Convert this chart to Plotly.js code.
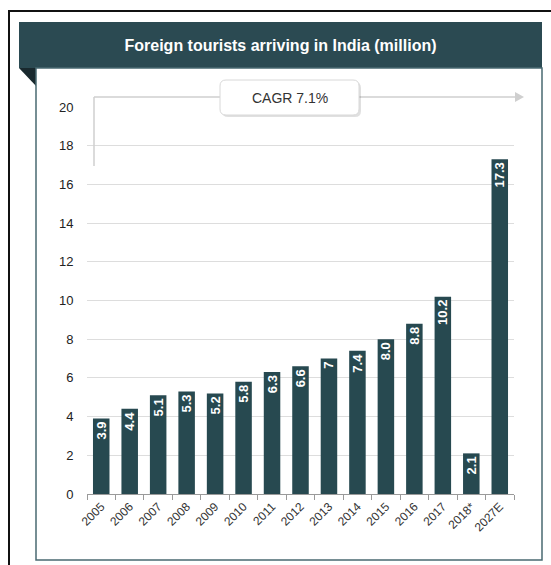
<!DOCTYPE html>
<html>
<head>
<meta charset="utf-8">
<script src="https://cdn.plot.ly/plotly-3.0.1.min.js"></script>
<style>html,body{margin:0;padding:0;background:#fff;overflow:hidden;}#chart{width:551px;height:565px;}</style>
</head>
<body>
<div id="chart"></div>
<script>
const years = ["2005","2006","2007","2008","2009","2010","2011","2012","2013","2014","2015","2016","2017","2018*","2027E"];
const arrivals = [3.9,4.4,5.1,5.3,5.2,5.8,6.3,6.6,7.0,7.4,8.0,8.8,10.2,2.1,17.3];
const barLabels = ["3.9","4.4","5.1","5.3","5.2","5.8","6.3","6.6","7","7.4","8.0","8.8","10.2","2.1","17.3"];
const yTicks = [0,2,4,6,8,10,12,14,16,18,20];
const chartTitle = "Foreign tourists arriving in India (million)";
const cagrText = "CAGR 7.1%";

const W = 551, H = 565;
const M = {l: 87, r: 37, t: 107, b: 71};
const PW = W - M.l - M.r, PH = H - M.t - M.b;
const px = x => (x - M.l) / PW;
const py = y => (H - M.b - y) / PH;

const dark = '#274950';
const font = 'Liberation Sans, Arial, sans-serif';

function roundRect(x0, y0, x1, y1, r) {
  const X0 = px(x0), X1 = px(x1), Y0 = py(y0), Y1 = py(y1);
  const rx = r / PW, ry = r / PH;
  return `M${X0+rx},${Y0} L${X1-rx},${Y0} Q${X1},${Y0} ${X1},${Y0-ry} L${X1},${Y1+ry} Q${X1},${Y1} ${X1-rx},${Y1} L${X0+rx},${Y1} Q${X0},${Y1} ${X0},${Y1+ry} L${X0},${Y0-ry} Q${X0},${Y0} ${X0+rx},${Y0} Z`;
}

const shapes = [
  // outer black frame (top and left edges visible)
  {type:'line', xref:'paper', yref:'paper', x0:px(8), x1:px(551), y0:py(11), y1:py(11), line:{color:'#111', width:2}, layer:'below'},
  {type:'line', xref:'paper', yref:'paper', x0:px(9), x1:px(9), y0:py(10), y1:py(565), line:{color:'#111', width:2}, layer:'below'},
  // header
  {type:'rect', xref:'paper', yref:'paper', x0:px(19), x1:px(542), y0:py(22), y1:py(68), fillcolor:'#2b4a52', line:{width:0}, layer:'below'},
  // fold triangle
  {type:'path', xref:'paper', yref:'paper', path:`M${px(19)},${py(68)} L${px(36)},${py(68)} L${px(36)},${py(86)} Z`, fillcolor:'#19292e', line:{width:0}, layer:'below'},
  // inner panel
  {type:'rect', xref:'paper', yref:'paper', x0:px(36), x1:px(542), y0:py(68), y1:py(560), line:{color:'#4a6a72', width:1.5}, layer:'below'},
  // CAGR bracket lines
  {type:'line', xref:'paper', yref:'paper', x0:px(94), x1:px(94), y0:py(166), y1:py(97), line:{color:'#cfcfcf', width:1.5}},
  {type:'line', xref:'paper', yref:'paper', x0:px(94), x1:px(516), y0:py(97), y1:py(97), line:{color:'#cfcfcf', width:1.5}},
  {type:'path', xref:'paper', yref:'paper', path:`M${px(515)},${py(92)} L${px(524)},${py(97)} L${px(515)},${py(102)} Z`, fillcolor:'#cfcfcf', line:{width:0}},
  // CAGR box shadow + box
  {type:'path', xref:'paper', yref:'paper', path:roundRect(222, 82, 361, 117, 6), fillcolor:'rgba(0,0,0,0.12)', line:{width:0}},
  {type:'path', xref:'paper', yref:'paper', path:roundRect(220, 80, 359, 115, 6), fillcolor:'#ffffff', line:{color:'#d8d8d8', width:1}}
];

const trace = {
  type:'bar',
  x: years,
  y: arrivals,
  text: barLabels,
  texttemplate: '<b>%{text}</b>',
  textposition: 'inside',
  insidetextanchor: 'end',
  textangle: -90,
  constraintext: 'none',
  textfont: {family: font, size: 13, color: '#ffffff'},
  marker: {color: dark, line: {width: 0}},
  hoverinfo: 'x+y'
};

const layout = {
  width: W, height: H,
  margin: M,
  paper_bgcolor: 'rgba(0,0,0,0)',
  plot_bgcolor: 'rgba(0,0,0,0)',
  showlegend: false,
  bargap: 0.42,
  font: {family: font, color: '#222'},
  title: {
    text: '<b>' + chartTitle + '</b>',
    font: {family: font, size: 16, color: '#ffffff'},
    xref: 'paper', x: px(280.5), xanchor: 'center',
    yref: 'container', y: 1 - 45/H, yanchor: 'middle'
  },
  xaxis: {
    type: 'category',
    tickangle: -45,
    tickfont: {size: 12, color: '#333'},
    showline: true, linecolor: '#9a9a9a', linewidth: 1,
    ticks: 'outside', tickson: 'boundaries', ticklen: 5, tickcolor: '#9a9a9a',
    showgrid: false, fixedrange: true
  },
  yaxis: {
    range: [0, 20],
    tickvals: yTicks,
    ticktext: yTicks.map(String),
    tickfont: {size: 13, color: '#222'},
    showgrid: true, gridcolor: '#dddddd', gridwidth: 1,
    zeroline: false, showline: false,
    ticks: 'outside', ticklen: 10, tickcolor: 'rgba(0,0,0,0)',
    fixedrange: true
  },
  shapes: shapes,
  annotations: [
    {xref:'paper', yref:'paper', x: px(289.5), y: py(97.5), text: cagrText, showarrow:false,
     font:{family: font, size: 14, color:'#333'}, xanchor:'center', yanchor:'middle'}
  ]
};

Plotly.newPlot('chart', [trace], layout, {displayModeBar: false, staticPlot: true});
</script>
</body>
</html>
